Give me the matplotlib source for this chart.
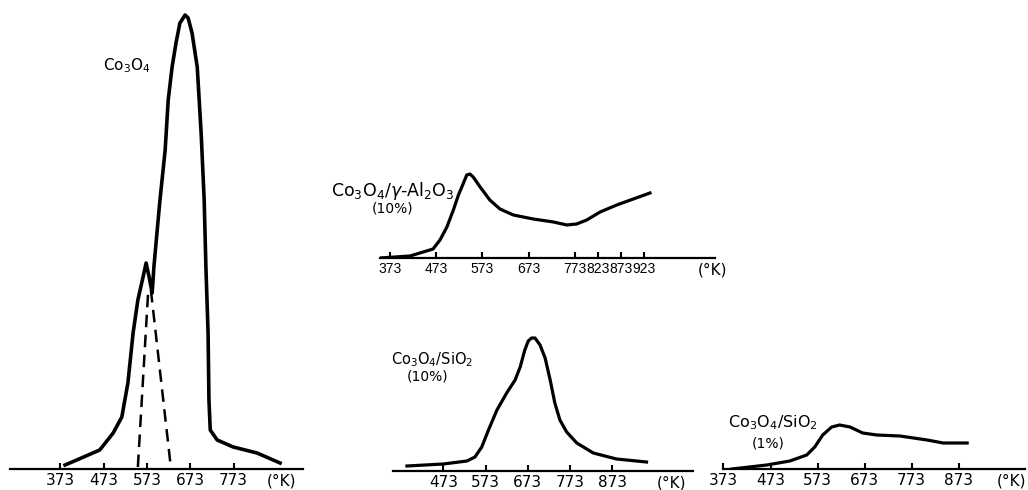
import matplotlib.pyplot as plt

W, H = 1028, 490

# TPR traces: temperature (K) vs signal (arbitrary units)
t_bulk = [384, 411, 464, 495, 515, 529, 541, 552, 564, 571, 578, 585, 589, 596, 603, 615, 622,
          631, 640, 649, 661, 668, 677, 689, 698, 705, 709, 714, 716, 719, 735, 772, 827, 880]
s_bulk = [4, 9, 19, 36, 52, 86, 136, 169, 192, 206, 192, 176, 202, 236, 269, 319, 369,
          402, 426, 446, 454, 451, 436, 402, 336, 269, 202, 136, 69, 39, 29, 22, 16, 6]
# deconvolution guides (dashed)
t_dash_a = [552, 576]
s_dash_a = [2, 179]
t_dash_b = [582, 628]
s_dash_b = [179, 2]

t_al = [351, 416, 466, 481, 496, 510, 521, 531, 539, 546, 553, 568, 589, 611, 640, 683, 727,
        756, 777, 799, 828, 864, 900, 936]
s_al = [0, 2, 9, 18, 31, 48, 63, 74, 83, 84, 81, 71, 58, 49, 43, 39, 36,
        33, 34, 38, 46, 53, 59, 65]

t_si10 = [387, 473, 529, 548, 564, 580, 600, 623, 643, 655, 666, 674, 682, 690, 702, 714, 726,
          737, 749, 765, 789, 828, 883, 954]
s_si10 = [5, 7, 10, 14, 24, 41, 61, 78, 91, 104, 121, 130, 133, 133, 126, 113, 91,
          68, 51, 39, 28, 18, 12, 9]

t_si1 = [391, 465, 514, 550, 567, 584, 603, 620, 642, 669, 699, 748, 806, 840, 891]
s_si1 = [0, 4, 8, 14, 22, 34, 42, 44, 42, 36, 34, 33, 29, 26, 26]

ticks_bulk = [373, 473, 573, 673, 773]
ticks_al = [373, 473, 573, 673, 773, 823, 873, 923]
ticks_si10 = [473, 573, 673, 773, 873]
ticks_si1 = [373, 473, 573, 673, 773, 873]

fig = plt.figure(figsize=(W / 100, H / 100), dpi=100)
fig.patch.set_facecolor('white')


def panel(left, right, base, top, xlim, ticks, unit_x, tick_fs=11, tick_font='DejaVu Sans'):
    ax = fig.add_axes([left / W, 1 - base / H, (right - left) / W, (base - top) / H])
    ax.set_xlim(xlim)
    ax.set_ylim(0, base - top)
    for s in ['left', 'right', 'top']:
        ax.spines[s].set_visible(False)
    ax.spines['bottom'].set_linewidth(1.6)
    ax.set_yticks([])
    ax.set_xticks(ticks)
    ax.set_xticklabels([str(t) for t in ticks], fontsize=tick_fs, family=tick_font)
    ax.tick_params(axis='x', direction='in', length=4, width=1.5, pad=3)
    ax.patch.set_alpha(0)
    ax.annotate('(°K)', xy=(unit_x, 0), xycoords='axes fraction', xytext=(0, -3),
                textcoords='offset points', ha='center', va='top', fontsize=11)
    return ax


lw = 2.3

ax1 = panel(10, 303, 469, 5, (257, 933), ticks_bulk, 0.928)
ax1.plot(t_bulk, s_bulk, color='black', lw=lw + 0.3, solid_joinstyle='round')
ax1.plot(t_dash_a, s_dash_a, color='black', lw=1.8, dashes=(5, 3))
ax1.plot(t_dash_b, s_dash_b, color='black', lw=1.8, dashes=(5, 3))
ax1.text(527, 403, r'Co$_3$O$_4$', fontsize=11, ha='center', va='center')

# the crowded 773-923 labels need a narrower face
ax2 = panel(380, 715, 258, 140, (351, 1077), ticks_al, 0.994, tick_fs=10, tick_font='Liberation Sans')
ax2.plot(t_al, s_al, color='black', lw=lw, solid_joinstyle='round')
ax2.text(513, 67, r'Co$_3$O$_4$/$\gamma$-Al$_2$O$_3$', fontsize=12.5, ha='right', va='center')
ax2.text(379, 49, '(10%)', fontsize=10, ha='center', va='center')

ax3 = panel(393, 693, 471, 321, (354, 1064), ticks_si10, 0.93)
ax3.plot(t_si10, s_si10, color='black', lw=lw, solid_joinstyle='round')
ax3.text(446, 111, r'Co$_3$O$_4$/SiO$_2$', fontsize=10.5, ha='center', va='center')
ax3.text(435, 94, '(10%)', fontsize=10, ha='center', va='center')

ax4 = panel(723, 1025, 469, 400, (372, 1014), ticks_si1, 0.955)
ax4.plot(t_si1, s_si1, color='black', lw=lw, solid_joinstyle='round')
ax4.text(478, 46, r'Co$_3$O$_4$/SiO$_2$', fontsize=11.5, ha='center', va='center')
ax4.text(467, 26, '(1%)', fontsize=10, ha='center', va='center')

fig.savefig('out.png', dpi=100, facecolor='white')
